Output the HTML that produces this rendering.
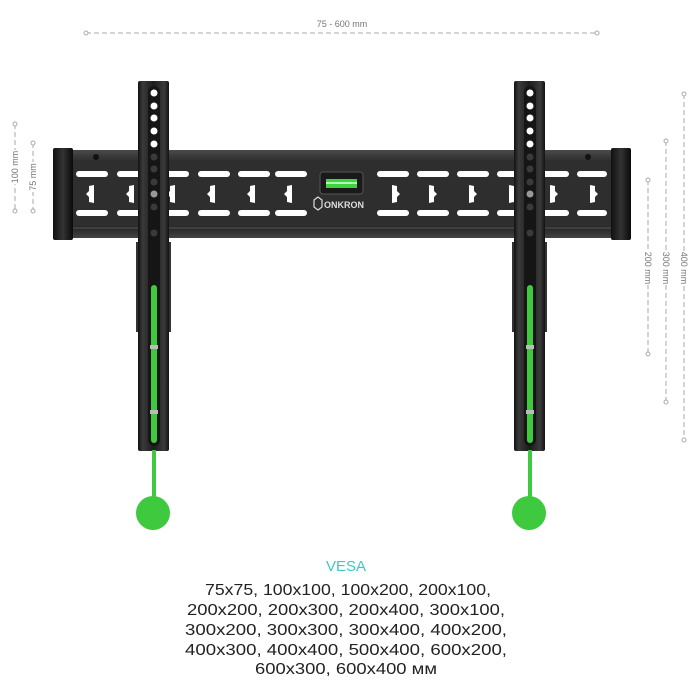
<!DOCTYPE html>
<html><head><meta charset="utf-8"><style>html,body{margin:0;padding:0;background:#fff}svg{display:block}</style></head>
<body>
<svg width="700" height="700" viewBox="0 0 700 700" xmlns="http://www.w3.org/2000/svg" font-family="Liberation Sans, sans-serif">
<defs>
<linearGradient id="plate" x1="0" y1="0" x2="0" y2="1">
<stop offset="0" stop-color="#4a4a4a"/><stop offset="0.1" stop-color="#333"/><stop offset="0.9" stop-color="#2a2a2a"/><stop offset="1" stop-color="#444"/></linearGradient>
<linearGradient id="arm" x1="0" y1="0" x2="1" y2="0">
<stop offset="0" stop-color="#111"/><stop offset="0.15" stop-color="#3a3a3a"/><stop offset="0.5" stop-color="#1c1c1c"/><stop offset="0.85" stop-color="#3a3a3a"/><stop offset="1" stop-color="#111"/></linearGradient>
<linearGradient id="cap" x1="0" y1="0" x2="1" y2="0">
<stop offset="0" stop-color="#111"/><stop offset="0.5" stop-color="#333"/><stop offset="1" stop-color="#0a0a0a"/></linearGradient>
<g id="key"><path d="M-3 -8 L2 -9 L2 9 L-3 8 L-3 3 L-6 0 L-3 -3 Z" fill="#fff"/></g>
</defs>
<g stroke="#aaa" stroke-width="1" stroke-dasharray="5,3" fill="none">
<line x1="86" y1="33" x2="597" y2="33"/>
<line x1="15" y1="124" x2="15" y2="211"/>
<line x1="33" y1="143" x2="33" y2="211"/>
<line x1="648" y1="180" x2="648" y2="354"/>
<line x1="666" y1="141" x2="666" y2="402"/>
<line x1="684" y1="94" x2="684" y2="440"/>
</g>
<g stroke="#aaa" stroke-width="1" fill="#fff">
<circle cx="86" cy="33" r="2"/><circle cx="597" cy="33" r="2"/>
<circle cx="15" cy="124" r="2"/><circle cx="15" cy="211" r="2"/>
<circle cx="33" cy="143" r="2"/><circle cx="33" cy="211" r="2"/>
<circle cx="648" cy="180" r="2"/><circle cx="648" cy="354" r="2"/>
<circle cx="666" cy="141" r="2"/><circle cx="666" cy="402" r="2"/>
<circle cx="684" cy="94" r="2"/><circle cx="684" cy="440" r="2"/>
</g>
<g fill="#777" font-size="9">
<rect x="315" y="18" width="54" height="12" fill="#fff"/>
<text x="342" y="27" text-anchor="middle">75 - 600 mm</text>
<g transform="translate(18,167) rotate(-90)"><rect x="-17" y="-9" width="34" height="11" fill="#fff"/><text text-anchor="middle">100 mm</text></g>
<g transform="translate(36,177) rotate(-90)"><rect x="-15" y="-9" width="30" height="11" fill="#fff"/><text text-anchor="middle">75 mm</text></g>
<g transform="translate(645,268) rotate(90)"><rect x="-17" y="-9" width="34" height="11" fill="#fff"/><text text-anchor="middle">200 mm</text></g>
<g transform="translate(663,268) rotate(90)"><rect x="-17" y="-9" width="34" height="11" fill="#fff"/><text text-anchor="middle">300 mm</text></g>
<g transform="translate(681,268) rotate(90)"><rect x="-17" y="-9" width="34" height="11" fill="#fff"/><text text-anchor="middle">400 mm</text></g>
</g>
<!-- plate -->
<rect x="70" y="150" width="544" height="88" fill="url(#plate)"/>
<rect x="70" y="160" width="544" height="66" fill="#2e2e2e"/>
<line x1="70" y1="228" x2="614" y2="228" stroke="#555"/>
<rect x="53" y="148" width="20" height="92" rx="2" fill="url(#cap)"/>
<rect x="611" y="148" width="20" height="92" rx="2" fill="url(#cap)"/>
<circle cx="96" cy="157" r="3" fill="#111"/><circle cx="588" cy="157" r="3" fill="#111"/>
<g fill="#fff">
<rect x="76" y="171" width="32" height="6" rx="3"/><rect x="117" y="171" width="32" height="6" rx="3"/><rect x="157" y="171" width="32" height="6" rx="3"/><rect x="198" y="171" width="32" height="6" rx="3"/><rect x="238" y="171" width="32" height="6" rx="3"/><rect x="275" y="171" width="32" height="6" rx="3"/>
<rect x="76" y="210" width="32" height="6" rx="3"/><rect x="117" y="210" width="32" height="6" rx="3"/><rect x="157" y="210" width="32" height="6" rx="3"/><rect x="198" y="210" width="32" height="6" rx="3"/><rect x="238" y="210" width="32" height="6" rx="3"/><rect x="275" y="210" width="32" height="6" rx="3"/>
<rect x="377" y="171" width="32" height="6" rx="3"/><rect x="417" y="171" width="32" height="6" rx="3"/><rect x="457" y="171" width="32" height="6" rx="3"/><rect x="497" y="171" width="32" height="6" rx="3"/><rect x="537" y="171" width="32" height="6" rx="3"/><rect x="577" y="171" width="30" height="6" rx="3"/>
<rect x="377" y="210" width="32" height="6" rx="3"/><rect x="417" y="210" width="32" height="6" rx="3"/><rect x="457" y="210" width="32" height="6" rx="3"/><rect x="497" y="210" width="32" height="6" rx="3"/><rect x="537" y="210" width="32" height="6" rx="3"/><rect x="577" y="210" width="30" height="6" rx="3"/>
</g>
<use href="#key" x="92" y="194"/><use href="#key" x="132" y="194"/><use href="#key" x="173" y="194"/><use href="#key" x="213" y="194"/><use href="#key" x="253" y="194"/><use href="#key" x="290" y="194"/>
<g transform="translate(684,0) scale(-1,1)"><use href="#key" x="92" y="194"/><use href="#key" x="132" y="194"/><use href="#key" x="173" y="194"/><use href="#key" x="213" y="194"/><use href="#key" x="253" y="194"/><use href="#key" x="290" y="194"/></g>
<rect x="320" y="172" width="43" height="22" rx="3" fill="#1a1a1a" stroke="#555"/>
<rect x="326" y="179" width="31" height="9" fill="#3ed43e"/>
<rect x="326" y="182" width="31" height="2" fill="#b8f5b0"/>
<path d="M314 200 l4 -3 l4 3 v7 l-4 3 l-4 -3 z" fill="none" stroke="#ddd" stroke-width="1.2"/>
<text x="324" y="208" fill="#ddd" font-size="9" font-weight="bold">ONKRON</text>
<!-- arms -->
<g id="armL">
<rect x="136" y="242" width="3" height="90" fill="#333"/><rect x="168" y="242" width="3" height="90" fill="#333"/>
<rect x="138" y="81" width="31" height="370" rx="2" fill="url(#arm)"/>
<rect x="148" y="86" width="12" height="360" rx="6" fill="#151515"/>
<g fill="#fff"><circle cx="154" cy="93" r="3.5"/><circle cx="154" cy="106" r="3.5"/><circle cx="154" cy="118" r="3.5"/><circle cx="154" cy="131" r="3.5"/><circle cx="154" cy="144" r="3.5"/></g>
<g fill="#3a3a3a"><circle cx="154" cy="157" r="3.5"/><circle cx="154" cy="169" r="3.5"/><circle cx="154" cy="182" r="3.5"/><circle cx="154" cy="207" r="3.5"/><circle cx="154" cy="233" r="3.5"/></g>
<circle cx="154" cy="194" r="3.5" fill="#999"/>
<rect x="151" y="285" width="6" height="158" rx="3" fill="#3ec93e"/>
<rect x="150" y="345" width="8" height="4" fill="#bbb"/><rect x="150" y="410" width="8" height="4" fill="#bbb"/>
<rect x="152" y="450" width="4" height="50" fill="#3ec93e"/>
<circle cx="153" cy="513" r="17" fill="#3ec93e"/>
</g>
<use href="#armL" x="376"/>
<!-- text -->
<text x="346" y="571" text-anchor="middle" fill="#3cc9c0" font-size="15">VESA</text>
<g font-size="15.5" fill="#222">
<text x="205" y="595" textLength="286" lengthAdjust="spacingAndGlyphs">75x75, 100x100, 100x200, 200x100,</text>
<text x="187" y="615" textLength="318" lengthAdjust="spacingAndGlyphs">200x200, 200x300, 200x400, 300x100,</text>
<text x="185" y="635" textLength="322" lengthAdjust="spacingAndGlyphs">300x200, 300x300, 300x400,  400x200,</text>
<text x="185" y="655" textLength="322" lengthAdjust="spacingAndGlyphs">400x300, 400x400, 500x400, 600x200,</text>
<text x="255" y="674" textLength="182" lengthAdjust="spacingAndGlyphs">600x300, 600x400 мм</text>
</g>
</svg>
</body></html>
